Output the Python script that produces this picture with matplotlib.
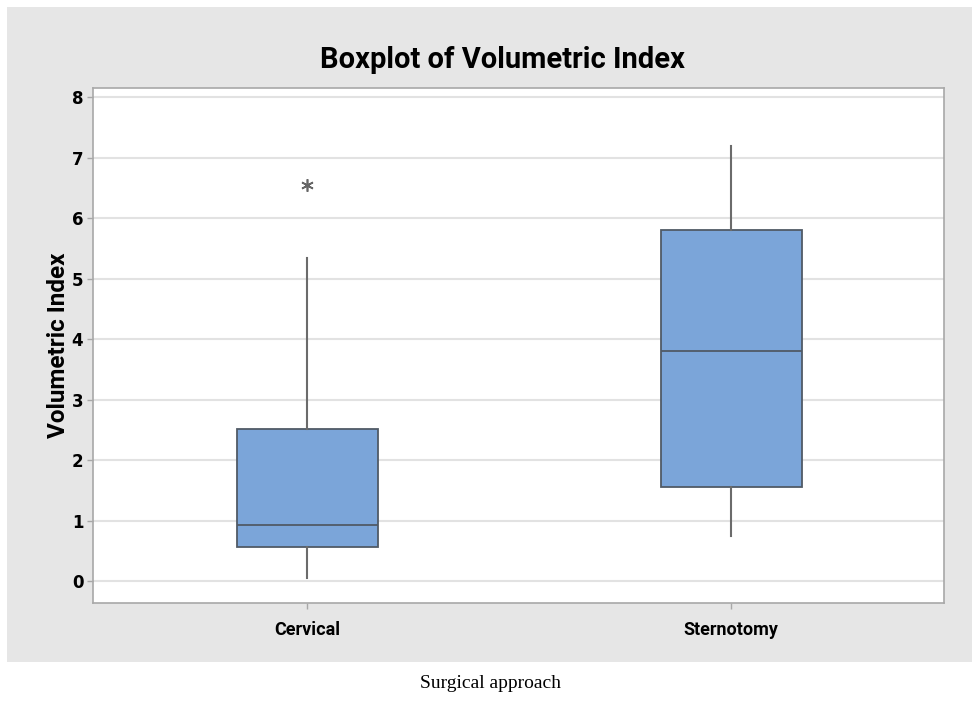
import matplotlib
matplotlib.use("Agg")
import matplotlib.pyplot as plt
from matplotlib.patches import Rectangle

# five-number summaries per group, plus outliers
groups = ["Cervical", "Sternotomy"]
whisker_lo = [0.06, 0.74]
q1 = [0.56, 1.55]
median = [0.93, 3.80]
q3 = [2.52, 5.80]
whisker_hi = [5.34, 7.19]
outliers = [[6.54], []]
yticks = [0, 1, 2, 3, 4, 5, 6, 7, 8]

narrow = ["Roboto", "DejaVu Sans"]

fig = plt.figure(figsize=(9.8, 7.04), dpi=100)
fig.patch.set_facecolor("white")
# grey panel behind the plot
fig.patches.append(Rectangle((7 / 980, 1 - 662 / 704), 965 / 980, 655 / 704,
                             transform=fig.transFigure, facecolor="#e6e6e6",
                             edgecolor="none", zorder=-5))

ax = fig.add_axes([93 / 980, 1 - 603 / 704, 851 / 980, 515 / 704])
ax.set_facecolor("white")

stats = []
for i, g in enumerate(groups):
    stats.append(dict(label=g, whislo=whisker_lo[i], q1=q1[i], med=median[i],
                      q3=q3[i], whishi=whisker_hi[i], fliers=outliers[i]))

ax.bxp(stats, positions=[1, 2], widths=0.333, patch_artist=True, showcaps=False,
       boxprops=dict(facecolor="#7ba5d9", edgecolor="#505a66", linewidth=1.3),
       medianprops=dict(color="#505a66", linewidth=1.3),
       whiskerprops=dict(color="#6b6b6b", linewidth=1.5),
       flierprops=dict(marker=(6, 2, 0), markersize=9, markeredgecolor="#666666",
                       markeredgewidth=1.2, linestyle="none"))

ax.set_xlim(0.495, 2.502)
ax.set_ylim(-0.36, 8.15)
ax.set_yticks(yticks)
ax.set_xticks([1, 2])
ax.set_xticklabels(groups)
ax.yaxis.grid(True, color="#e2e2e2", linewidth=1.5)
ax.set_axisbelow(True)

for s in ax.spines.values():
    s.set_color("#a8a8a8")
    s.set_linewidth(1.2)
ax.tick_params(axis="both", colors="#a8a8a8", length=4, width=1, labelcolor="black")
ax.tick_params(axis="y", pad=3)
for lbl in ax.get_yticklabels():
    lbl.set_fontweight("bold")
    lbl.set_fontsize(12)
    lbl.set_family("DejaVu Sans")
for lbl in ax.get_xticklabels():
    lbl.set_fontweight("bold")
    lbl.set_fontsize(13)
    lbl.set_family(narrow)
ax.tick_params(axis="x", pad=9)

ax.set_ylabel("Volumetric Index", fontsize=17.5, fontweight="bold", family=narrow, labelpad=1)
fig.text(502 / 980, 1 - 60 / 704, "Boxplot of Volumetric Index", ha="center", va="center",
         fontsize=21, fontweight="bold", family=narrow)
fig.text(490 / 980, 1 - 683 / 704, "Surgical approach", ha="center", va="center",
         fontsize=14, family=["Liberation Serif", "DejaVu Serif"])

fig.savefig("out.png", dpi=100)
